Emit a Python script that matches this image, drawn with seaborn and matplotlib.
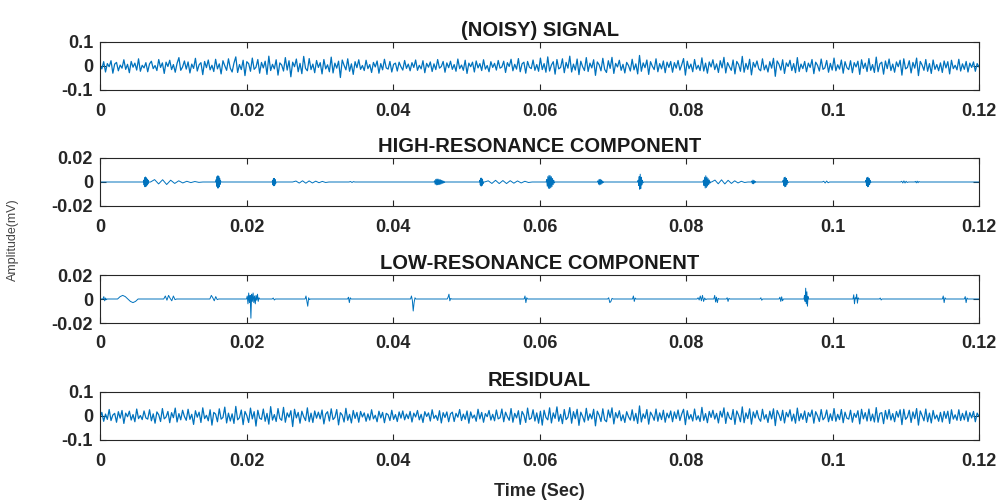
import numpy as np
import matplotlib
matplotlib.use("Agg")
import matplotlib.pyplot as plt
import seaborn as sns

# all amplitudes below are in units of 1e-3
SIGNAL = [
    5, -12, 18, -25, 10, -3, 22, -30, 8, 15, -20, 4, -9, 26, -14, 7, -28, 19, -5, 12, -17, 30, -22, 3,
    -8, 14, -24, 9, 20, -11, 2, -19, 27, -6, 13, -31, 16, -2, 24, -15, 6, -26, 11, 35, -18, -4, 21, -13,
    17, -29, 8, -10, 32, -21, 5, 14, -36, 19, -7, 25, -16, 3, -23, 28, -12, 9, -33, 22, 1, -18, 30, -9,
    -25, 12, 38, -27, 6, -15, 24, -40, 18, 10, -22, 33, -14, -5, 27, -30, 15, -8, 20, -35, 41, -19, 7, -12,
    26, -38, 13, 4, -21, 35, -17, 22, -45, 16, -3, 29, -24, 11, -32, 40, -10, -20, 31, -15, 8, -28, 23, -6,
    14, -33, 27, -12, 5, -24, 37, -29, 12, -9, 20, -48, 25, 3, -16, 30, -22, 9, -35, 18, -7, 26, -14, 2,
    -19, 24, -11, 6, -27, 15, -4, 21, -30, 10, -16, 28, -8, -13, 19, -25, 7, 12, -21, 16, -3, -17, 23, -10,
    8, -20, 14, -6, 25, -18, 3, -12, 22, -28, 11, -5, 17, -23, 9, -15, 27, -9, -2, 19, -26, 13, -7, 20,
    -14, 6, -22, 29, -11, 4, -18, 24, -31, 12, -3, 16, -25, 21, -8, 10, -19, 26, -13, 2, -24, 18, -6, 11,
    -17, 23, -9, -4, 20, -27, 14, -2, 28, -20, 7, -13, 31, -24, 9, 16, -30, 19, -5, -11, 25, -18, 6, -22,
    33, -15, 10, -26, 38, -21, 4, 18, -34, 27, -12, -6, 30, -28, 15, -9, 41, -25, 8, -17, 29, -36, 20, -3,
    -19, 35, -23, 12, -8, 26, -39, 17, 5, -20, 32, -14, -27, 22, -10, 36, -31, 11, -4, 24, -18, 7, -29, 15,
    2, -21, 28, -16, 9, -33, 44, -22, 13, -7, 25, -35, 18, -1, -15, 30, -24, 10, -12, 21, -28, 16, -6, 19,
    -26, 14, -9, 23, -17, 5, 31, -38, 20, -11, 8, -24, 27, -13, 3, -19, 34, -21, 12, -30, 17, -4, 26, -15,
    9, -27, 22, -8, 36, -29, 14, -3, -18, 25, -33, 19, 6, -22, 40, -26, 11, -14, 28, -37, 15, -5, 21, -12,
    -20, 30, -16, 4, -25, 18, -9, 32, -43, 21, 7, -17, 26, -31, 13, -2, 24, -19, 10, -28, 35, -23, 8, -11,
    19, -24, 12, -6, 27, -32, 16, 3, -21, 29, -14, -8, 23, -26, 11, -17, 33, -20, 5, -13, 25, -30, 18, -7,
    -15, 22, -28, 14, -4, 20, -35, 26, -10, 12, -23, 31, -18, 6, -27, 37, -24, 9, 16, -34, 21, -11, 29, -19,
    8, -26, 17, -3, 24, -38, 30, -12, -6, 22, -29, 15, -9, 33, -40, 19, 4, -18, 27, -22, 10, -31, 25, -14,
    6, -20, 13, -27, 21, -8, 18, -33, 24, -11, 3, -16, 28, -21, 9, -14, 19, -25, 12, -6, 17, -22, 10, -4,
]

RESIDUAL = [
    -6, 15, -22, 8, -14, 27, -19, 4, 11, -26, 18, -9, 23, -31, 12, -3, 20, -17, 6, -24, 29, -11, 2, -15,
    21, -8, -13, 26, -20, 9, -30, 17, 5, -23, 31, -12, -4, 19, -28, 14, -7, 33, -25, 10, -16, 24, -2, -18,
    28, -14, 7, -35, 22, -5, 16, -27, 34, -11, 3, -20, 26, -38, 15, 8, -24, 30, -13, -6, 37, -29, 12, -21,
    9, -31, 40, -16, -7, 25, -36, 19, 2, -27, 33, -12, 18, -42, 24, -9, -14, 29, -22, 11, -34, 39, -17, 6,
    -23, 31, -10, -18, 36, -26, 13, -5, 22, -44, 28, -8, 15, -30, 20, -3, -19, 34, -24, 12, -27, 21, -9, 16,
    -12, 25, -33, 8, 18, -21, 30, -15, -6, 27, -37, 14, 4, -25, 32, -18, 7, -29, 23, -10, 15, -26, 19, -4,
    13, -22, 9, -17, 26, -12, 3, -24, 20, -8, 15, -28, 11, 5, -19, 24, -14, 6, -23, 17, -9, 21, -16, 8,
    -11, 19, -25, 12, -4, 23, -16, 7, -27, 18, -2, 13, -21, 26, -10, 3, -18, 22, -29, 14, -6, 17, -24, 9,
    16, -23, 11, -5, 27, -19, 8, -14, 21, -30, 17, -9, 4, -22, 28, -12, 15, -26, 10, -3, 23, -17, 7, -20,
    25, -12, -7, 29, -24, 16, -3, -18, 31, -26, 11, -8, 22, -35, 19, 4, -27, 33, -14, -9, 26, -21, 13, -30,
    20, -38, 24, -6, -16, 34, -29, 13, -10, 38, -22, 7, -32, 27, -15, -5, 35, -30, 18, -11, 28, -39, 16, -2,
    -25, 32, -18, 9, -12, 28, -41, 20, 3, -23, 30, -16, -24, 25, -7, 34, -33, 14, -8, 22, -20, 5, -27, 18,
    -3, -17, 26, -20, 11, -31, 42, -25, 9, -10, 27, -34, 16, 2, -18, 29, -22, 13, -15, 24, -26, 12, -8, 21,
    -24, 17, -11, 25, -19, 8, 28, -36, 22, -13, 6, -21, 29, -16, 1, -23, 36, -18, 10, -28, 19, -6, 24, -13,
    11, -29, 20, -5, 34, -31, 16, -7, -15, 27, -35, 21, 3, -24, 38, -28, 13, -11, 30, -34, 17, -8, 23, -10,
    -22, 28, -13, 6, -27, 20, -12, 30, -40, 23, 5, -19, 24, -29, 15, -4, 26, -21, 8, -30, 33, -20, 10, -14,
    21, -27, 14, -3, 25, -30, 18, 1, -23, 27, -16, -6, 25, -24, 9, -19, 31, -22, 7, -15, 27, -28, 16, -9,
    -13, 24, -26, 11, -6, 22, -33, 28, -12, 14, -21, 29, -20, 8, -25, 35, -26, 11, 14, -32, 23, -13, 27, -17,
    10, -24, 19, -5, 26, -36, 28, -14, -4, 24, -27, 17, -11, 31, -38, 21, 2, -20, 29, -24, 12, -29, 23, -12,
    4, -22, 15, -25, 19, -10, 20, -31, 26, -13, 5, -18, 26, -19, 11, -16, 21, -23, 14, -8, 19, -24, 12, -2,
]

# high-resonance component: bursts (start in ms, sample step in ms, samples)
HR_START_MS = [5.9, 6.9, 15.8, 23.5, 26.3, 34.0, 45.6, 51.8, 52.5, 60.9,
               67.9, 73.4, 82.3, 83.5, 88.9, 93.2, 98.6, 104.5, 109.3, 111.2]
HR_STEP_MS = [0.06, 0.55, 0.06, 0.06, 0.45, 0.2, 0.08, 0.06, 0.5, 0.08,
              0.08, 0.07, 0.08, 0.45, 0.08, 0.07, 0.2, 0.07, 0.15, 0.12]
HR_SHAPES = [
    [0, 1.5, -2.5, 3.5, -4, 4.2, -3.8, 3.5, -3, 2.5, -2, 1.5, -1, 0],
    [0, 2.0, -1.6, 1.9, -2.1, 1.5, -1.2, 1.0, -0.8, 0.6, -0.5, 0.4, -0.3, 0],
    [0, 2, -3.5, 4.5, -5, 5.2, -5, 4.6, -4, 3, -2, 1, 0],
    [0, 1.5, -2.5, 3, -3.2, 3, -2.6, 2, -1.2, 0],
    [0, 0.8, -0.9, 1, -1, 0.9, -0.8, 0.7, -0.6, 0.5, -0.4, 0],
    [0, 0.4, -0.4, 0.3, 0],
    [0, 1, -1.8, 2.2, -2.4, 2.5, -2.3, 2.4, -2.2, 2, -2.1, 1.8, -1.6, 1.4, -1.2, 1, -0.8, 0.6, -0.4, 0],
    [0, 1.5, -2.5, 3.2, -3.4, 3.2, -2.8, 2.2, -1.5, 0],
    [0, 1.0, -1.2, 1.4, -1.3, 1.2, -1.3, 1.1, -1.0, 0.9, -0.8, 0.6, -0.4, 0],
    [0, 2, -3.5, 4.5, -5.2, 5.5, -5.4, 5.2, -4.8, 4.4, -3.8, 3, -2.2, 1.4, -0.8, 0],
    [0, 1, -1.8, 2.2, -2.4, 2.2, -2, 1.6, -1.2, 0.8, -0.4, 0],
    [0, 1.5, -3, 4.5, -6, 6.5, -5.5, 4, -2.5, 1.5, -0.8, 0],
    [0, 1.5, -3, 4, -5, 5.2, -4.6, 4, -3.4, 2.8, -2.2, 1.6, -1, 0],
    [0, 1.6, -1.5, 1.8, -1.6, 1.4, -1.2, 1.0, -0.8, 0.6, -0.4, 0],
    [0, 0.8, -1.4, 1.6, -1.5, 1.2, -0.8, 0.4, 0],
    [0, 1.5, -2.8, 3.6, -4, 4, -3.6, 3, -2.2, 1.4, -0.7, 0],
    [0, 0.6, -0.8, 0.8, -0.6, 0],
    [0, 1.5, -2.8, 3.6, -4, 4, -3.6, 3, -2.2, 1.4, -0.7, 0],
    [0, 0.6, -0.8, 0.9, -0.8, 0.6, -0.4, 0],
    [0, 0.5, -0.7, 0.7, -0.6, 0.4, 0],
]

# low-resonance component: transients
LR_START_MS = [0.4, 2.4, 8.7, 15.0, 20.0, 23.5, 28.0, 33.8, 42.4, 47.4, 57.9, 69.3,
               72.7, 81.5, 83.8, 85.5, 90.1, 92.7, 96.1, 102.8, 106.4, 115.0, 118.0]
LR_STEP_MS = [0.12, 0.35, 0.22, 0.2, 0.1, 0.15, 0.12, 0.12, 0.12, 0.12, 0.12, 0.15,
              0.12, 0.15, 0.12, 0.12, 0.12, 0.12, 0.08, 0.1, 0.12, 0.12, 0.12]
LR_SHAPES = [
    [0, 2, -1.5, 0.8, -0.5, 0],
    [0, 2, 3, 2, 0, -2, -3, -2, 0],
    [0, 2.5, -1, 3, 0.5, -1.5, 2.5, -0.5, 0],
    [0, 3, 1, -1.5, 2, -0.5, 0],
    [0, 2.5, -4, 5, -3, 3, -16, 4, -2, 5, -3, 2.5, -4, 3, -1, 4, -2, 1, 0],
    [0, 0.8, -0.8, 0],
    [0, 2.5, -1.5, -6, 1, -0.5, 0],
    [0, 1.5, -3, 1, 0],
    [0, 2.5, -1, -10, -3, 1, 0],
    [0, 1.5, 4, -1.5, 0.5, 0],
    [0, 2.5, -3, 1, 0],
    [0, 1, -3, -2, 0.5, 0],
    [0, 2.5, -2, 0.8, 0],
    [0, 1, -0.8, 2.5, -1.5, 3, -2, 0.8, -0.5, 0],
    [0, 3, -2.5, 1.5, -3, 0.5, 0],
    [0, 1, -2, 0.5, 0],
    [0, 1, -1, 0],
    [0, 1.5, -2, 1.8, -1.5, 0],
    [0, 3, -2, 9, -4, 6, -6, 2, 0],
    [0, 3.5, -4, 1, 0, 4, -3.5, 1, 0],
    [0, 0.8, -0.8, 0],
    [0, 2.5, -3, 1, 0],
    [0, 2, -3, 0.8, 0],
]

TITLES = ["(NOISY) SIGNAL", "HIGH-RESONANCE COMPONENT", "LOW-RESONANCE COMPONENT", "RESIDUAL"]
X_TICKS = [0, 0.02, 0.04, 0.06, 0.08, 0.1, 0.12]
X_TICK_LABELS = ["0", "0.02", "0.04", "0.06", "0.08", "0.1", "0.12"]
Y_TICKS_BIG = [-0.1, 0, 0.1]
Y_LABELS_BIG = ["-0.1", "0", "0.1"]
Y_TICKS_SMALL = [-0.02, 0, 0.02]
Y_LABELS_SMALL = ["-0.02", "0", "0.02"]
T_END = 0.12
UNIT = 1e-3

LINE_COLOR = "#0072BD"
DARK = "#262626"


def build_component(starts, steps, shapes):
    """Lay the bursts on a zero baseline, times in seconds"""
    t = [0.0]
    v = [0.0]
    for start, step, shape in zip(starts, steps, shapes):
        for k, val in enumerate(shape):
            t.append((start + k * step) / 1000.0)
            v.append(val * UNIT)
    t.append(T_END)
    v.append(0.0)
    return np.array(t), np.array(v)


def main():
    sns.set_style("ticks")
    plt.rcParams['font.family'] = ['Liberation Sans', 'DejaVu Sans']
    plt.rcParams['font.weight'] = 'bold'
    plt.rcParams['axes.edgecolor'] = DARK
    plt.rcParams['axes.linewidth'] = 0.8

    t_sig = np.linspace(0, T_END, len(SIGNAL))
    t_res = np.linspace(0, T_END, len(RESIDUAL))
    t_hr, v_hr = build_component(HR_START_MS, HR_STEP_MS, HR_SHAPES)
    t_lr, v_lr = build_component(LR_START_MS, LR_STEP_MS, LR_SHAPES)

    series = [
        (t_sig, np.array(SIGNAL) * UNIT, Y_TICKS_BIG, Y_LABELS_BIG, 0.1, 0.9),
        (t_hr, v_hr, Y_TICKS_SMALL, Y_LABELS_SMALL, 0.02, 0.7),
        (t_lr, v_lr, Y_TICKS_SMALL, Y_LABELS_SMALL, 0.02, 0.7),
        (t_res, np.array(RESIDUAL) * UNIT, Y_TICKS_BIG, Y_LABELS_BIG, 0.1, 0.9),
    ]

    fig = plt.figure(figsize=(9.97, 5.04), dpi=100)
    # box tops in pixels: 42, 158, 275, 392 ; height 48
    bottoms = [1 - 90 / 504, 1 - 206 / 504, 1 - 323 / 504, 1 - 440 / 504]
    left = 100 / 997
    width = 879 / 997
    height = 48 / 504

    for i, (t, v, yt, yl, lim, lw) in enumerate(series):
        ax = fig.add_axes([left, bottoms[i], width, height])
        sns.lineplot(x=t, y=v, ax=ax, color=LINE_COLOR, linewidth=lw,
                     estimator=None, errorbar=None, sort=False)
        ax.set_xlim(0, T_END)
        ax.set_ylim(-lim, lim)
        ax.set_xticks(X_TICKS)
        ax.set_xticklabels(X_TICK_LABELS)
        ax.set_yticks(yt)
        ax.set_yticklabels(yl)
        ax.tick_params(direction='in', top=True, right=True, length=4, width=0.8,
                       labelsize=13, colors=DARK)
        ax.tick_params(axis='x', pad=9)
        ax.tick_params(axis='y', pad=5)
        for lab in ax.get_xticklabels() + ax.get_yticklabels():
            lab.set_fontweight('bold')
        ax.set_title(TITLES[i], fontsize=14.5, fontweight='bold', color='#1a1a1a', pad=4)
        ax.set_xlabel("")
        ax.set_ylabel("")
        if i == 3:
            ax.set_xlabel("Time (Sec)", fontsize=13, fontweight='bold', color=DARK, labelpad=10)

    fig.text(0.013, 1 - 240 / 504, "Amplitude(mV)", rotation=90, fontsize=9,
             fontweight='normal', color='#444444', ha='center', va='center')

    fig.savefig("out.png", dpi=100)
    plt.close(fig)


if __name__ == "__main__":
    main()
